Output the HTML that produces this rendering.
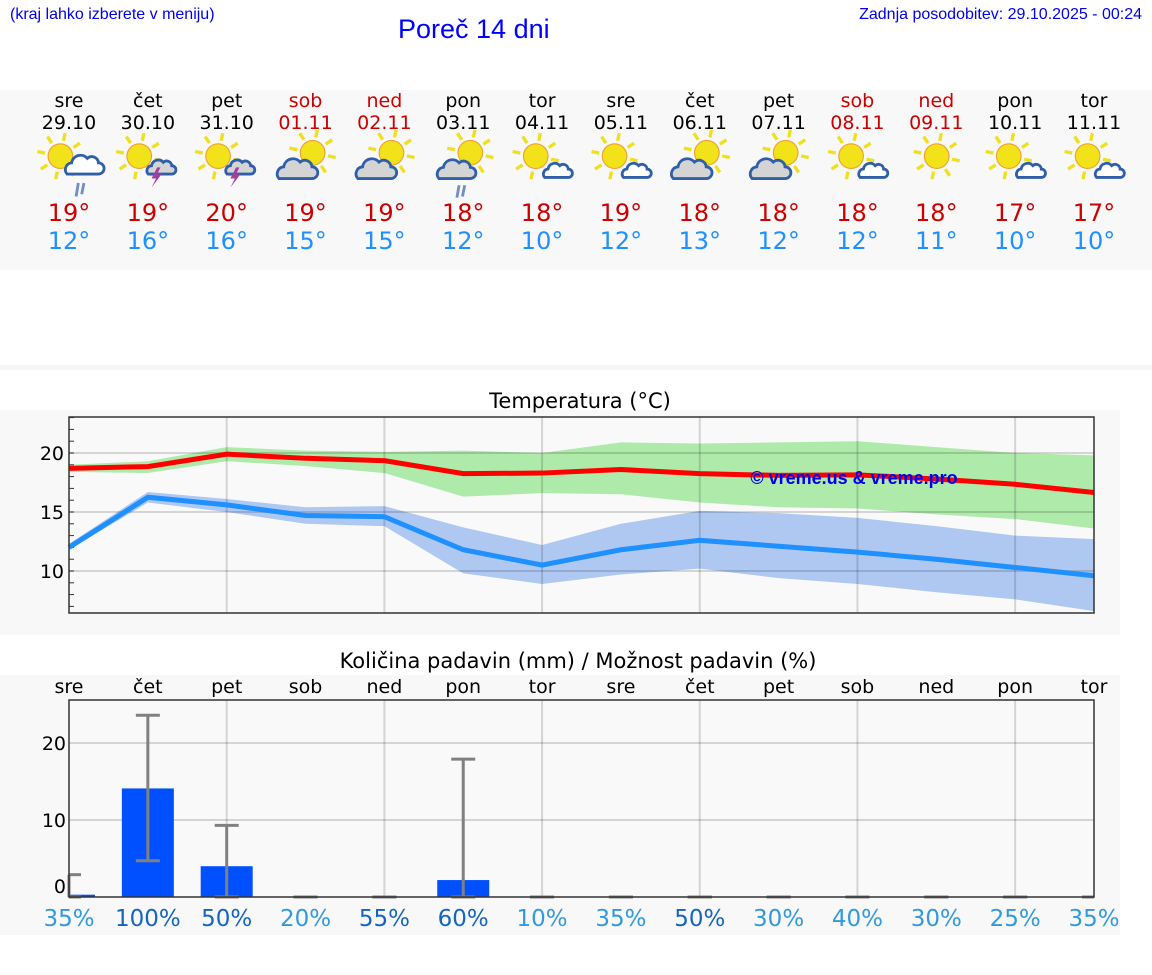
<!DOCTYPE html>
<html><head><meta charset="utf-8">
<style>
body{margin:0;width:1152px;height:975px;background:#fff;position:relative;overflow:hidden;font-family:"DejaVu Sans","Liberation Sans",sans-serif;}
.abs{position:absolute;}
</style></head>
<body>
<div class="abs" style="left:10px;top:6px;font:16px 'Liberation Sans',sans-serif;color:#0000ee;">(kraj lahko izberete v meniju)</div>
<div class="abs" style="left:398px;top:14px;font:27px 'Liberation Sans',sans-serif;color:#0000ff;">Poreč 14 dni</div>
<div class="abs" style="right:10px;top:6px;font:16px 'Liberation Sans',sans-serif;color:#0000ee;">Zadnja posodobitev: 29.10.2025 - 00:24</div>
<div class="abs" style="left:0;top:90px;width:1152px;height:180px;background:#f8f8f8;"></div>
<div class="abs" style="left:0;top:365px;width:1152px;height:5px;background:#f6f6f6;"></div>
<div class="abs" style="left:0;top:410px;width:1120px;height:225px;background:#f8f8f8;"></div>
<div class="abs" style="left:0;top:675px;width:1120px;height:260px;background:#f8f8f8;"></div>
<svg class="abs" style="left:0;top:0" width="1152" height="975" id="svg"></svg>
<script>
const dayNames=["sre","čet","pet","sob","ned","pon","tor","sre","čet","pet","sob","ned","pon","tor"];
const dates=["29.10","30.10","31.10","01.11","02.11","03.11","04.11","05.11","06.11","07.11","08.11","09.11","10.11","11.11"];
const weekend=[0,0,0,1,1,0,0,0,0,0,1,1,0,0];
const icons=["rain","storm","storm","cloudy","cloudy","rainy","partly","partly","cloudy","cloudy","partly","sun","partly","partly"];
const tMax=[19,19,20,19,19,18,18,19,18,18,18,18,17,17];
const tMin=[12,16,16,15,15,12,10,12,13,12,12,11,10,10];
const maxLine=[18.7,18.85,19.9,19.55,19.35,18.25,18.3,18.6,18.25,18.1,18.15,17.8,17.35,16.65];
const maxHi=[19.0,19.3,20.5,20.2,20.1,20.2,20.0,20.9,20.8,20.9,21.0,20.5,20.0,19.8];
const maxLo=[18.4,18.3,19.3,18.9,18.3,16.3,16.6,16.5,15.8,15.4,15.3,14.8,14.4,13.6];
const minLine=[12.0,16.25,15.6,14.7,14.6,11.8,10.5,11.8,12.6,12.1,11.6,11.0,10.3,9.6];
const minHi=[12.3,16.7,16.1,15.4,15.5,13.7,12.2,14.0,15.1,14.9,14.5,13.8,13.0,12.7];
const minLo=[11.8,15.8,15.0,14.0,13.8,9.8,8.9,9.7,10.2,9.4,8.9,8.2,7.6,6.6];
const tempTicks=[10,15,20];
const rain=[0.3,14.1,4.0,0,0,2.2,0,0,0,0,0,0,0,0];
const rainErrLo=[0,4.7,0,0,0,0,0,0,0,0,0,0,0,0];
const rainErrHi=[2.9,23.6,9.3,0,0,17.9,0,0,0,0,0,0,0,0];
const rainProb=[35,100,50,20,55,60,10,35,50,30,40,30,25,35];
const rainTicks=[0,10,20];

const NS="http://www.w3.org/2000/svg";
const svg=document.getElementById('svg');
function el(tag,attrs,parent,text){const e=document.createElementNS(NS,tag);for(const k in attrs)e.setAttribute(k,attrs[k]);if(text!==undefined)e.textContent=text;(parent||svg).appendChild(e);return e;}
const X0=69,X1=1094;
const xs=i=>X0+(X1-X0)*i/13;
const TY0=417,TY1=613;
const ty=v=>453-(v-20)*11.8;
const RY0=700,RY1=897;
const ry=v=>897-v*7.7;

for(let i=0;i<14;i++){
  const c=weekend[i]?"#cc0000":"#000";
  let t=el('text',{x:xs(i),y:107,'text-anchor':'middle','font-size':19,fill:c},svg,dayNames[i]);
  
  t=el('text',{x:xs(i),y:129,'text-anchor':'middle','font-size':19,fill:c},svg,dates[i]);
  
  t=el('text',{x:xs(i),y:221,'text-anchor':'middle','font-size':24,fill:"#cc0000"},svg,tMax[i]+"°");
  
  t=el('text',{x:xs(i),y:249,'text-anchor':'middle','font-size':24,fill:"#1e90ff"},svg,tMin[i]+"°");
  
  const g=el('g',{transform:`translate(${xs(i)-31},136) scale(1.12)`});
  
  drawIcon(g,icons[i]);
}
function sun(g,cx,cy,r){
  for(let k=0;k<8;k++){const a=k*Math.PI/4+0.2;el('line',{x1:cx+Math.cos(a)*(r+3),y1:cy+Math.sin(a)*(r+3),x2:cx+Math.cos(a)*(r+10),y2:cy+Math.sin(a)*(r+10),stroke:"#f0e020","stroke-width":3},g);}
  el('circle',{cx,cy,r,fill:"#f2e21a",stroke:"#f0a030","stroke-width":1},g);
}
function cloud(g,x,y,s,fill){
  el('path',{d:`M${x} ${y} a${6*s} ${6*s} 0 0 1 ${4*s} ${-10*s} a${8*s} ${8*s} 0 0 1 ${14*s} ${-4*s} a${6*s} ${6*s} 0 0 1 ${10*s} ${4*s} a${5*s} ${5*s} 0 0 1 0 ${10*s} z`,fill,stroke:"#2f5fa8","stroke-width":2.5},g);
}
function drawIcon(g,type){
  if(type==="sun"){sun(g,28,18,11);return;}
  if(type==="cloudy"){sun(g,34,15,11);cloud(g,4,38,1.05,"#d4d4d4");return;}
  if(type==="partly"){sun(g,22,18,11);cloud(g,30,37,0.75,"#fff");return;}
  if(type==="rain"){sun(g,20,18,11);cloud(g,26,34,1.0,"#fff");
    el('line',{x1:36,y1:42,x2:34,y2:54,stroke:"#6f8fc8","stroke-width":2.5},g);el('line',{x1:41,y1:42,x2:39,y2:52,stroke:"#6f8fc8","stroke-width":2.5},g);return;}
  if(type==="rainy"){sun(g,34,15,11);cloud(g,6,38,1.0,"#d4d4d4");
    el('line',{x1:24,y1:44,x2:22,y2:55,stroke:"#6f8fc8","stroke-width":2.5},g);el('line',{x1:29,y1:44,x2:27,y2:54,stroke:"#6f8fc8","stroke-width":2.5},g);return;}
  if(type==="storm"){sun(g,20,18,11);cloud(g,28,34,0.75,"#d4d4d4");
    el('path',{d:"M36 28 L31 38 L35 38 L31 46 L40 34 L36 34 L39 28 Z",fill:"#a040a0"},g);return;}
}

el('text',{x:580,y:408,'text-anchor':'middle','font-size':21,fill:"#000"},svg,"Temperatura (°C)");
el('rect',{x:X0,y:TY0,width:X1-X0,height:TY1-TY0,fill:"#f9f9f9"});
function poly(hi,lo,fill,name){
  let d="M"+hi.map((v,i)=>xs(i)+" "+ty(v)).join(" L")+" L"+lo.map((v,i)=>xs(13-i)+" "+ty(lo[13-i])).join(" L")+"Z";
  const p=el('path',{d,fill});
}
poly(maxHi,maxLo,"#aeeaaa",'max-temp-range');
poly(minHi,minLo,"#aec8f2",'min-temp-range');
for(const v of tempTicks){el('line',{x1:X0,x2:X1,y1:ty(v),y2:ty(v),stroke:"rgba(0,0,0,0.15)","stroke-width":2});
  const t=el('text',{x:X0-5,y:ty(v)+7,'text-anchor':'end','font-size':19},svg,v);}
for(let v=7;v<=23;v++){el('line',{x1:X0,x2:X0+5,y1:ty(v),y2:ty(v),stroke:"#333","stroke-width":1});}
for(let i=2;i<14;i+=2){el('line',{x1:xs(i),x2:xs(i),y1:TY0,y2:TY1,stroke:"rgba(0,0,0,0.15)","stroke-width":2});}
function line(arr,color,name){const p=el('polyline',{points:arr.map((v,i)=>xs(i)+","+ty(v)).join(" "),fill:"none",stroke:color,"stroke-width":5});}
line(maxLine,"#ff0000",'max-temp-line');
line(minLine,"#1e90ff",'min-temp-line');
el('text',{x:854,y:484,'text-anchor':'middle','font-size':18,'font-family':"Liberation Sans",'font-weight':'bold',fill:"#0000ee"},svg,"© vreme.us & vreme.pro");
el('rect',{x:X0,y:TY0,width:X1-X0,height:TY1-TY0,fill:"none",stroke:"#333","stroke-width":1.5});

el('text',{x:578,y:668,'text-anchor':'middle','font-size':21},svg,"Količina padavin (mm) / Možnost padavin (%)");
for(let i=0;i<14;i++){const t=el('text',{x:xs(i),y:693,'text-anchor':'middle','font-size':19},svg,dayNames[i]);}
el('rect',{x:X0,y:RY0,width:X1-X0,height:RY1-RY0,fill:"#f9f9f9"});
for(const v of rainTicks){if(v>0)el('line',{x1:X0,x2:X1,y1:ry(v),y2:ry(v),stroke:"rgba(0,0,0,0.15)","stroke-width":2});
  const t=el('text',{x:X0-3,y:ry(v)+(v===0?-4:7),'text-anchor':'end','font-size':19},svg,v);}
for(let i=2;i<14;i+=2){el('line',{x1:xs(i),x2:xs(i),y1:RY0,y2:RY1,stroke:"rgba(0,0,0,0.15)","stroke-width":2});}
for(let i=0;i<14;i++){
  let x=xs(i)-26,w=52;if(x<X0){w-=X0-x;x=X0;}if(x+w>X1)w=X1-x;
  if(rain[i]>0){const b=el('rect',{x,y:ry(rain[i]),width:w,height:ry(0)-ry(rain[i]),fill:"#0050ff"});}
  const cx=xs(i),capL=Math.max(X0,cx-12),capR=Math.min(X1,cx+12);
  const eg=el('g',{stroke:"#808080","stroke-width":3});
  el('line',{x1:cx,x2:cx,y1:ry(rainErrLo[i]),y2:ry(rainErrHi[i])},eg);
  el('line',{x1:capL,x2:capR,y1:ry(rainErrLo[i]),y2:ry(rainErrLo[i])},eg);
  el('line',{x1:capL,x2:capR,y1:ry(rainErrHi[i]),y2:ry(rainErrHi[i])},eg);
  const t=el('text',{x:cx,y:926,'text-anchor':'middle','font-size':23,fill:rainProb[i]>=50?"#1565c0":"#3399dd"},svg,rainProb[i]+"%");
  
}
el('rect',{x:X0,y:RY0,width:X1-X0,height:RY1-RY0,fill:"none",stroke:"#333","stroke-width":1.5});
</script>
</body></html>
